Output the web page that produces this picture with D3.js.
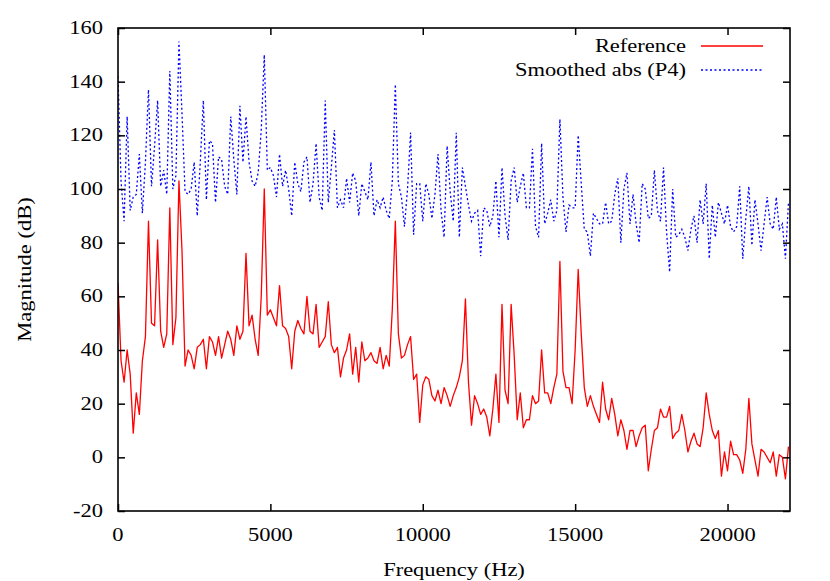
<!DOCTYPE html>
<html>
<head>
<meta charset="utf-8">
<script src="https://cdn.jsdelivr.net/npm/d3@7"></script>
<style>
  html, body { margin: 0; padding: 0; background: #ffffff; }
  svg { display: block; }
  text { font-family: "Liberation Serif", "Times New Roman", serif; fill: #000; }
</style>
</head>
<body>
<svg id="chart" width="830" height="581"></svg>
<script>
// ---- data ----
const binHz = 100; // spacing of spectrum bins (Hz)
const xTicks = [0, 5000, 10000, 15000, 20000];
const yTicks = [-20, 0, 20, 40, 60, 80, 100, 120, 140, 160];
const seriesNames = ["Reference", "Smoothed abs (P4)"];

const referenceDb = [
  65, 36, 28, 40, 31, 9, 24, 16, 36, 45,
  88, 50, 49, 81, 47, 41, 46, 93, 42, 52,
  103, 77, 34, 40, 38, 33, 41, 42, 44, 33,
  45, 43, 38, 45, 37, 42, 47, 44, 38, 49,
  44, 47, 76, 49, 53, 44, 38, 60, 100, 53,
  55, 52, 49, 64, 49, 48, 45, 33, 47, 51,
  48, 46, 60, 47, 46, 57, 41, 43, 45, 58,
  42, 39, 41, 30, 37, 40, 46, 31, 41, 28,
  43, 36, 37, 39, 36, 35, 41, 33, 38, 34,
  55, 88, 46, 37, 38, 42, 45, 29, 31, 13,
  27, 30, 29, 23, 21, 25, 20, 26, 23, 19,
  23, 26, 30, 36, 59, 28, 12, 23, 20, 16,
  18, 15, 8, 18, 31, 13, 57, 25, 20, 57,
  38, 14, 24, 11, 14, 14, 23, 20, 21, 40,
  24, 24, 20, 26, 31, 73, 32, 26, 26, 20,
  40, 70, 46, 26, 19, 23, 19, 16, 13, 28,
  18, 14, 22, 16, 8, 14, 10, 3, 10, 10,
  4, 8, 11, 12, -5, 3, 10, 11, 18, 15,
  15, 19, 7, 9, 10, 16, 10, 2, 6, 9,
  5, 4, 11, 24, 16, 10, 7, 10, -7, 2,
  -5, 6, 1, 1, -1, -6, 3, 22, 5, -1,
  -7, 3, 2, 0, -2, 2, -7, 1, 0, -8,
  4
];

const smoothedDb = [
  142, 103, 88, 127, 92, 97, 98, 113, 91, 110,
  137, 101, 116, 133, 101, 107, 98, 144, 100, 105,
  155, 128, 99, 98, 100, 110, 90, 110, 133, 96,
  118, 117, 95, 112, 111, 101, 98, 127, 111, 98,
  131, 110, 127, 110, 103, 101, 106, 122, 150, 107,
  108, 105, 97, 113, 101, 107, 100, 90, 110, 102,
  99, 110, 112, 95, 102, 117, 97, 92, 133, 95,
  108, 122, 93, 96, 93, 104, 95, 106, 103, 90,
  102, 99, 96, 110, 90, 96, 93, 97, 92, 89,
  103, 139, 102, 97, 86, 100, 121, 83, 102, 102,
  88, 102, 98, 89, 98, 113, 92, 82, 116, 99,
  88, 121, 82, 108, 101, 94, 88, 91, 92, 75,
  93, 92, 86, 90, 103, 82, 108, 90, 81, 103,
  108, 95, 101, 106, 93, 93, 115, 86, 82, 117,
  87, 91, 96, 88, 92, 126, 97, 84, 94, 93,
  93, 120, 102, 85, 84, 75, 91, 89, 87, 87,
  95, 87, 88, 98, 104, 80, 100, 106, 87, 98,
  87, 80, 102, 100, 89, 90, 107, 92, 88, 108,
  84, 69, 100, 82, 83, 85, 82, 77, 85, 90,
  80, 96, 87, 102, 74, 94, 82, 95, 91, 87,
  94, 86, 84, 86, 101, 74, 89, 101, 79, 96,
  87, 77, 87, 97, 87, 85, 97, 85, 87, 74,
  95
];

// ---- layout ----
const W = 830, H = 581;
const plot = { left: 118, right: 790, top: 28, bottom: 511 };
const fontSize = 18, stretch = 1.25;

const svg = d3.select("#chart");
const x = d3.scaleLinear().domain([0, 22050]).range([plot.left, plot.right]);
const y = d3.scaleLinear().domain([-20, 160]).range([plot.bottom, plot.top]);

function label(str, tx, ty, anchor, rot) {
  svg.append("text")
    .attr("transform", `translate(${tx},${ty})` + (rot ? ` rotate(${rot})` : "") + ` scale(${stretch},1)`)
    .attr("text-anchor", anchor)
    .attr("font-size", fontSize)
    .text(str);
}

// clip
svg.append("defs").append("clipPath").attr("id", "clip")
  .append("rect").attr("x", plot.left).attr("y", plot.top)
  .attr("width", plot.right - plot.left).attr("height", plot.bottom - plot.top);

// series
const line = d3.line().x((d, i) => x(i * binHz)).y(d => y(d));
const gData = svg.append("g").attr("clip-path", "url(#clip)");
gData.append("path").datum(referenceDb)
  .attr("d", line).attr("fill", "none")
  .attr("stroke", "#ff0000").attr("stroke-width", 1.3).attr("stroke-linejoin", "round");
gData.append("path").datum(smoothedDb)
  .attr("d", line).attr("fill", "none")
  .attr("stroke", "#0000ff").attr("stroke-width", 1.3)
  .attr("stroke-dasharray", "2,2.5");

// axes (gnuplot style, ticks inward, mirrored)
const tickLen = 7;
const axB = d3.axisBottom(x).tickValues(xTicks).tickSizeInner(-tickLen).tickSizeOuter(0).tickFormat("");
const axT = d3.axisTop(x).tickValues(xTicks).tickSizeInner(-tickLen).tickSizeOuter(0).tickFormat("");
const axL = d3.axisLeft(y).tickValues(yTicks).tickSizeInner(-tickLen).tickSizeOuter(0).tickFormat("");
const axR = d3.axisRight(y).tickValues(yTicks).tickSizeInner(-tickLen).tickSizeOuter(0).tickFormat("");
[[axB, `translate(0,${plot.bottom})`], [axT, `translate(0,${plot.top})`],
 [axL, `translate(${plot.left},0)`], [axR, `translate(${plot.right},0)`]].forEach(([ax, tr]) => {
  const g = svg.append("g").attr("transform", tr).call(ax);
  g.select(".domain").remove();
  g.selectAll("line").attr("stroke", "#000").attr("stroke-width", 1.5);
});
svg.append("rect")
  .attr("x", plot.left).attr("y", plot.top)
  .attr("width", plot.right - plot.left).attr("height", plot.bottom - plot.top)
  .attr("fill", "none").attr("stroke", "#000").attr("stroke-width", 1.6);

// tick labels
yTicks.forEach(v => label(String(v), plot.left - 15, y(v) + 6, "end"));
xTicks.forEach(v => label(String(v), x(v), 541, "middle"));

// axis titles
label("Frequency (Hz)", (plot.left + plot.right) / 2, 576, "middle");
label("Magnitude (dB)", 31, (plot.top + plot.bottom) / 2, "middle", -90);

// legend
const legendX1 = 701, legendX2 = 763, textEnd = 686;
const legendRows = [
  { name: seriesNames[0], y: 46, color: "#ff0000", dash: null },
  { name: seriesNames[1], y: 70, color: "#0000ff", dash: "2,2.5" }
];
legendRows.forEach(r => {
  label(r.name, textEnd, r.y + 6, "end");
  const l = svg.append("line")
    .attr("x1", legendX1).attr("x2", legendX2).attr("y1", r.y).attr("y2", r.y)
    .attr("stroke", r.color).attr("stroke-width", 1.3);
  if (r.dash) l.attr("stroke-dasharray", r.dash);
});
</script>
</body>
</html>
